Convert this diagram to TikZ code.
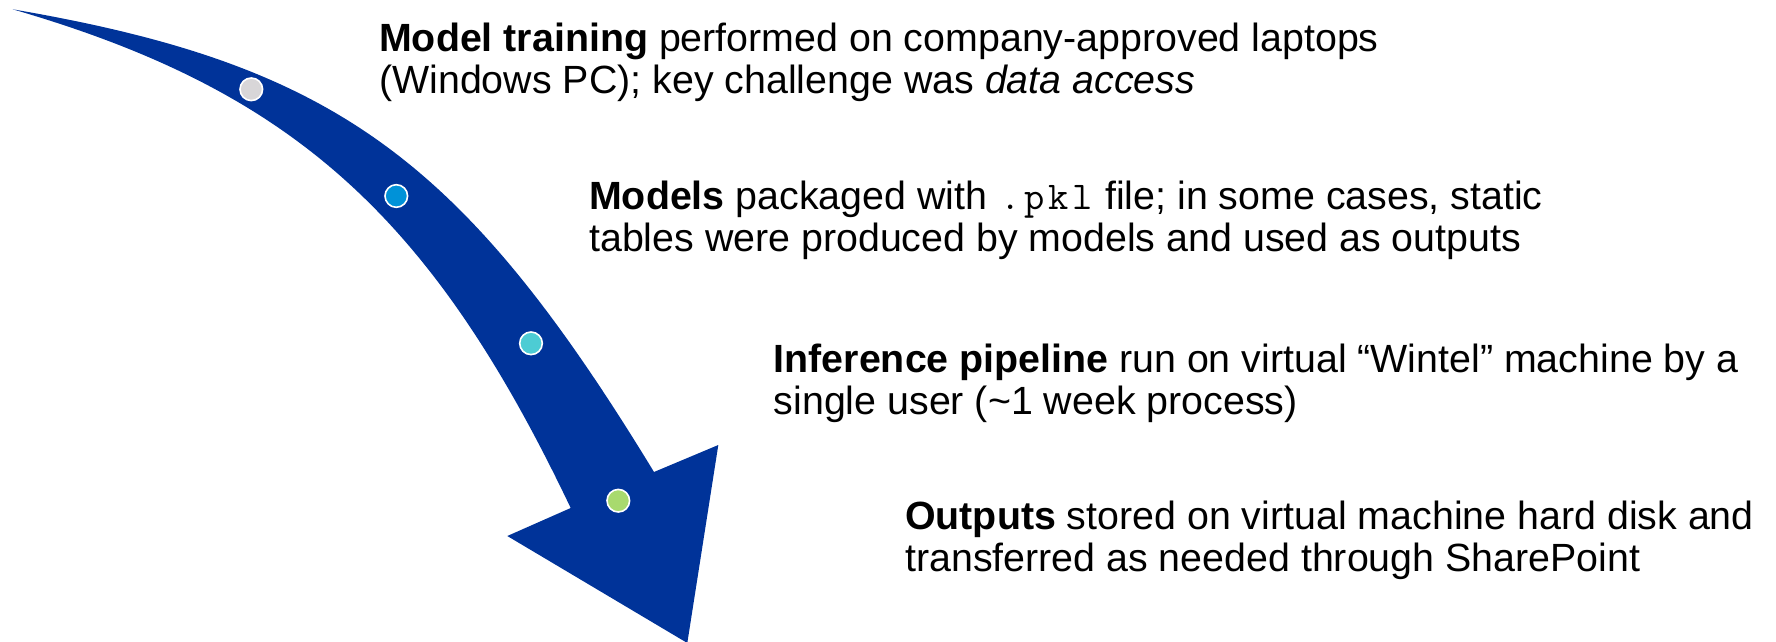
\documentclass[tikz,border=0pt]{standalone}
\usepackage{fontspec}
\setmainfont{Liberation Sans}
\definecolor{arrowblue}{RGB}{0,51,153}
\definecolor{dotgray}{RGB}{216,214,216}
\definecolor{dotblue}{RGB}{0,146,216}
\definecolor{dotcyan}{RGB}{77,204,212}
\definecolor{dotgreen}{RGB}{168,218,110}
% one wide fixed-pitch cell per character of a file extension
\newcommand{\codechar}[1]{\makebox[0.61em][c]{#1}}
\newcommand{\pklname}{{\ttfamily\codechar{.}\codechar{p}\codechar{k}\codechar{l}}}
\begin{document}
\begin{tikzpicture}[x=1bp,y=-1bp,
  txt/.style={anchor=base west, align=left, inner sep=0pt,
              font=\fontsize{39.5}{42}\selectfont},
  stepdot/.style={circle, draw=white, line width=1.6bp,
                  minimum size=22.6bp, inner sep=0pt}]
\useasboundingbox (0,0) rectangle (1776,642);

% curved, tapering process arrow
\fill[arrowblue] (12.7,9.3)
  .. controls (333.7,64.3) and (462,156.8) .. (654,472)
  -- (718.3,445) -- (687.3,643) -- (507.3,536) -- (570.7,508)
  .. controls (431.1,214.9) and (291.6,90.2) .. cycle;

% stage markers along the arrow
\node[stepdot, fill=dotgray]  (d1) at (251.3,89.3) {};
\node[stepdot, fill=dotblue]  (d2) at (396.3,196) {};
\node[stepdot, fill=dotcyan]  (d3) at (531,343.3) {};
\node[stepdot, fill=dotgreen] (d4) at (618.3,500.7) {};

% stage descriptions (anchored on the baseline of the last line)
\node[txt] (t1) at (379,93.3)
  {\textbf{Model training} performed on company-approved laptops\\
   (Windows PC); key challenge was \textit{data access}};
\node[txt] (t2) at (589,251.7)
  {\textbf{Models} packaged with \pklname{} file; in some cases, static\\
   tables were produced by models and used as outputs};
\node[txt] (t3) at (773.6,414)
  {\textbf{Inference pipeline} run on virtual “Wintel” machine by a\\
   single user (\textasciitilde1 week process)};
\node[txt] (t4) at (905,571.7)
  {\textbf{Outputs} stored on virtual machine hard disk and\\
   transferred as needed through SharePoint};
\end{tikzpicture}
\end{document}
